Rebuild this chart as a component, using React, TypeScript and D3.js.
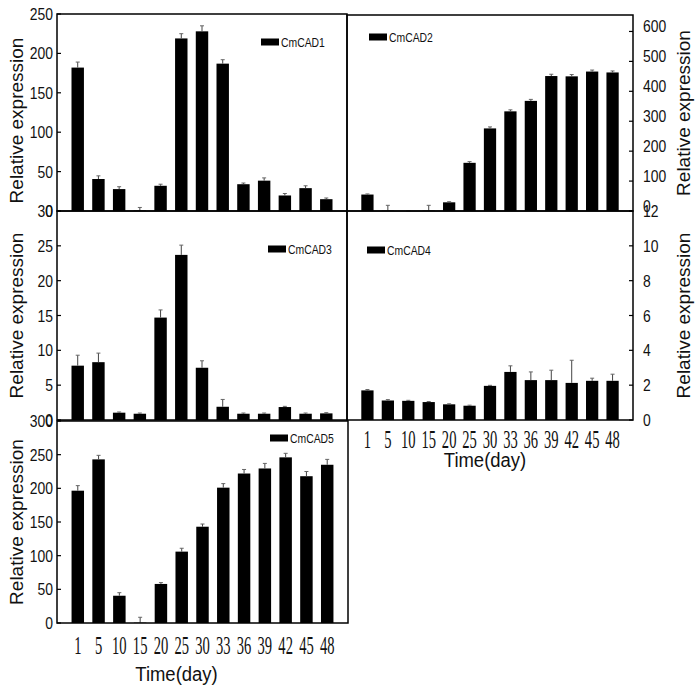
import React, { useRef, useEffect } from "react";
import * as d3 from "d3";

// sampling days
const days = ["1", "5", "10", "15", "20", "25", "30", "33", "36", "39", "42", "45", "48"];

// relative expression per gene (mean) and error (sd)
const cad1 = [182, 40.6, 27.8, 0.5, 32, 219, 228, 187, 34, 38.5, 19.7, 29, 15];
const cad1Err = [7, 4, 3, 4, 2, 6, 7, 5, 1.5, 3.5, 2.5, 3, 1.5];
const cad2 = [55, 1, 0, 1, 29, 161, 276, 333, 368, 451, 450, 466, 463];
const cad2Err = [2, 18, 0, 18, 2, 4, 5, 5, 5, 6, 6, 5, 5];
const cad3 = [7.8, 8.3, 1.05, 0.9, 14.7, 23.7, 7.5, 1.9, 0.9, 0.9, 1.86, 0.9, 0.95];
const cad3Err = [1.5, 1.3, 0.1, 0.1, 1.1, 1.4, 1.0, 1.05, 0.1, 0.1, 0.1, 0.1, 0.1];
const cad4 = [1.7, 1.12, 1.1, 1.03, 0.9, 0.82, 1.96, 2.76, 2.29, 2.29, 2.13, 2.25, 2.25];
const cad4Err = [0.05, 0.05, 0.03, 0.03, 0.03, 0.03, 0.03, 0.35, 0.47, 0.57, 1.3, 0.15, 0.38];
const cad5 = [196.5, 243, 40.5, 0.5, 58, 106, 143, 201, 222, 229.5, 246, 218, 235];
const cad5Err = [7.5, 6, 4.5, 8, 2, 5, 4, 6, 6, 7.5, 6, 7, 8];

const names = ["CmCAD1", "CmCAD2", "CmCAD3", "CmCAD4", "CmCAD5"];
const maxes = [250, 655, 30, 12, 300];
const tickSteps = [50, 100, 5, 2, 50];

const SANS = "'Liberation Sans', Arial, sans-serif";
const SERIF = "'Liberation Serif', 'Times New Roman', serif";

const App = () => {
  const ref = useRef(null);

  useEffect(() => {
    d3.select(ref.current).selectAll("*").remove();
    const svg = d3.select(ref.current).attr("width", 696).attr("height", 691);

    // layout of each panel: x0,x1,top,bottom, axis side, legend pos, x label offsets
    const panels = [
      { vals: cad1, err: cad1Err, x0: 57, x1: 347, top: 14, bottom: 211, side: "left", lx: 261, ly: 42, xlab: false },
      { vals: cad2, err: cad2Err, x0: 347, x1: 633, top: 15, bottom: 211, side: "right", lx: 369, ly: 37, xlab: false, labDy: -5 },
      { vals: cad3, err: cad3Err, x0: 57, x1: 347, top: 211, bottom: 420, side: "left", lx: 268, ly: 249, xlab: false },
      { vals: cad4, err: cad4Err, x0: 347, x1: 633, top: 211, bottom: 420, side: "right", lx: 367, ly: 250, xlab: true, tickY: 28, titleY: 47, titleDx: -5 },
      { vals: cad5, err: cad5Err, x0: 57, x1: 348, top: 421, bottom: 623, side: "left", lx: 270, ly: 438, xlab: true, tickY: 31, titleY: 58, titleDx: -26 },
    ];

    panels.forEach((p: any, i) => {
      const g = svg.append("g");
      const x = d3
        .scaleBand()
        .domain(days)
        .range([p.x0, p.x1])
        .paddingInner(0.4)
        .paddingOuter(0.7);
      const y = d3.scaleLinear().domain([0, maxes[i]]).range([p.bottom, p.top]);

      // bars
      g.selectAll("rect.bar")
        .data(p.vals)
        .enter()
        .append("rect")
        .attr("x", (_d: any, j: number) => x(days[j]) as number)
        .attr("y", (d: any) => y(d))
        .attr("width", x.bandwidth())
        .attr("height", (d: any) => p.bottom - y(d))
        .attr("fill", "#000");

      // error bars
      const eb = g.selectAll("g.eb").data(p.vals).enter().append("g");
      eb.append("line")
        .attr("x1", (_d: any, j: number) => (x(days[j]) as number) + x.bandwidth() / 2)
        .attr("x2", (_d: any, j: number) => (x(days[j]) as number) + x.bandwidth() / 2)
        .attr("y1", (d: any) => y(d))
        .attr("y2", (d: any, j: number) => y(d + p.err[j]))
        .attr("stroke", "#444")
        .attr("stroke-width", 1);
      eb.append("line")
        .attr("x1", (_d: any, j: number) => (x(days[j]) as number) + x.bandwidth() / 2 - 2)
        .attr("x2", (_d: any, j: number) => (x(days[j]) as number) + x.bandwidth() / 2 + 2)
        .attr("y1", (d: any, j: number) => y(d + p.err[j]))
        .attr("y2", (d: any, j: number) => y(d + p.err[j]))
        .attr("stroke", "#666")
        .attr("stroke-width", 1);

      // frame
      g.append("rect")
        .attr("x", p.x0)
        .attr("y", p.top)
        .attr("width", p.x1 - p.x0)
        .attr("height", p.bottom - p.top)
        .attr("fill", "none")
        .attr("stroke", "#000")
        .attr("stroke-width", 1.5);

      // y ticks
      const ticks = d3.range(0, maxes[i] + 0.001, tickSteps[i]);
      const ax = p.side === "left" ? p.x0 : p.x1;
      const dir = p.side === "left" ? 1 : -1;
      ticks.forEach((t) => {
        g.append("line")
          .attr("x1", ax)
          .attr("x2", ax + dir * 4)
          .attr("y1", y(t))
          .attr("y2", y(t))
          .attr("stroke", "#000")
          .attr("stroke-width", 1.2);
        const tx = p.side === "left" ? ax - 4 : ax + 10;
        g.append("text")
          .attr("transform", `translate(${tx},${y(t) + 6 + (p.labDy || 0)}) scale(0.82,1)`)
          .attr("text-anchor", p.side === "left" ? "end" : "start")
          .attr("font-family", SANS)
          .attr("font-size", 17)
          .attr("fill", "#111")
          .text(String(t));
      });

      // y title
      const mid = (p.top + p.bottom) / 2;
      const titleX = p.side === "left" ? 17 : 684;
      g.append("text")
        .attr("transform", `translate(${titleX + 6},${mid + (i === 0 ? 8 : 0)}) rotate(-90)`)
        .attr("text-anchor", "middle")
        .attr("font-family", SANS)
        .attr("font-size", 19)
        .attr("fill", "#111")
        .text("Relative expression");

      // legend
      g.append("rect").attr("x", p.lx).attr("y", p.ly - 3.5).attr("width", 18).attr("height", 7).attr("fill", "#000");
      g.append("text")
        .attr("transform", `translate(${p.lx + 20},${p.ly + 4.5}) scale(0.8,1)`)
        .attr("font-family", SANS)
        .attr("font-size", 13)
        .attr("fill", "#111")
        .text(names[i]);

      // x labels
      if (p.xlab) {
        days.forEach((d) => {
          const cx = (x(d) as number) + x.bandwidth() / 2;
          g.append("text")
            .attr("transform", `translate(${cx},${p.bottom + p.tickY}) scale(0.56,1)`)
            .attr("text-anchor", "middle")
            .attr("font-family", SERIF)
            .attr("font-size", 26)
            .attr("fill", "#111")
            .text(d);
        });
        g.append("text")
          .attr("transform", `translate(${(p.x0 + p.x1) / 2 + p.titleDx},${p.bottom + p.titleY}) scale(0.88,1)`)
          .attr("text-anchor", "middle")
          .attr("font-family", SANS)
          .attr("font-size", 21)
          .attr("fill", "#111")
          .text("Time(day)");
      }
    });
  }, []);

  return (
    <div style={{ position: "absolute", left: 0, top: 0, background: "#fff" }}>
      <svg ref={ref}></svg>
    </div>
  );
};

export default App;
